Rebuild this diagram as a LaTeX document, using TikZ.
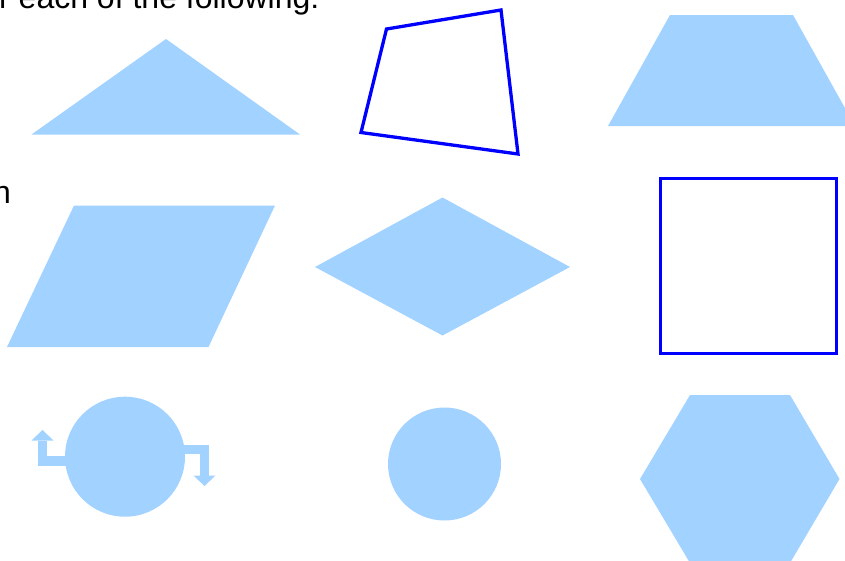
\documentclass[tikz,border=0pt]{standalone}
\usepackage{fontspec}
\setmainfont{Liberation Sans}
\usetikzlibrary{arrows.meta}
\definecolor{shapeblue}{HTML}{A2D2FF}
\definecolor{lineblue}{HTML}{0000FF}

\begin{document}
\begin{tikzpicture}[x=1pt,y=-1pt,
      every node/.style={font=\fontsize{32}{38}\selectfont,inner sep=0pt},
      solid/.style={fill=shapeblue},
      outline/.style={draw=lineblue,line width=3.3pt,line join=miter},
      disc/.style={circle,fill=shapeblue,inner sep=0pt},
      turnarrow/.style={draw=shapeblue,line width=9.5pt,line join=miter,
        -{Triangle[width=22pt,length=10.5pt,line width=0pt]}}]
    \useasboundingbox (0,0) rectangle (845,560);
    \clip (0,0) rectangle (845,560);
    % Text cut by the frame
    \node[anchor=base west] (headline) at (-1,8) {r each of the following:};
    \node[anchor=base east] (sideword) at (11,203) {n};
    % Top row
    \fill[solid] (166,39) -- (300,134.5) -- (31.5,134.5) -- cycle;
    \draw[outline] (386.5,29) -- (501,10) -- (518,154) -- (361,132.5) -- cycle;
    \fill[solid] (670,15) -- (793,15) -- (855,126) -- (608,126) -- cycle;
    % Middle row
    \fill[solid] (74,205.5) -- (275,205.5) -- (208.5,347) -- (7,347) -- cycle;
    \fill[solid] (442.5,197.5) -- (570,267) -- (442.5,335.5) -- (315,267) -- cycle;
    \draw[outline] (660.5,178.3) rectangle (836.2,353.7);
    % Bottom row: circle with two turning arrows
    \node[disc,minimum size=120pt] (wheel) at (125,456.7) {};
    \coordinate (upTip) at (42.5,430);
    \coordinate (downTip) at (204.5,486);
    \draw[turnarrow] ([xshift=3pt]wheel.184) -| (upTip);
    \draw[turnarrow] ([xshift=-3pt]wheel.7) -| (downTip);
    \node[disc,minimum size=113pt] (plaindisc) at (444.5,464) {};
    \fill[solid] (690,395) -- (790,395) -- (839.5,479) -- (790,563) -- (690,563) -- (640,479) -- cycle;
  \end{tikzpicture}
\end{document}
